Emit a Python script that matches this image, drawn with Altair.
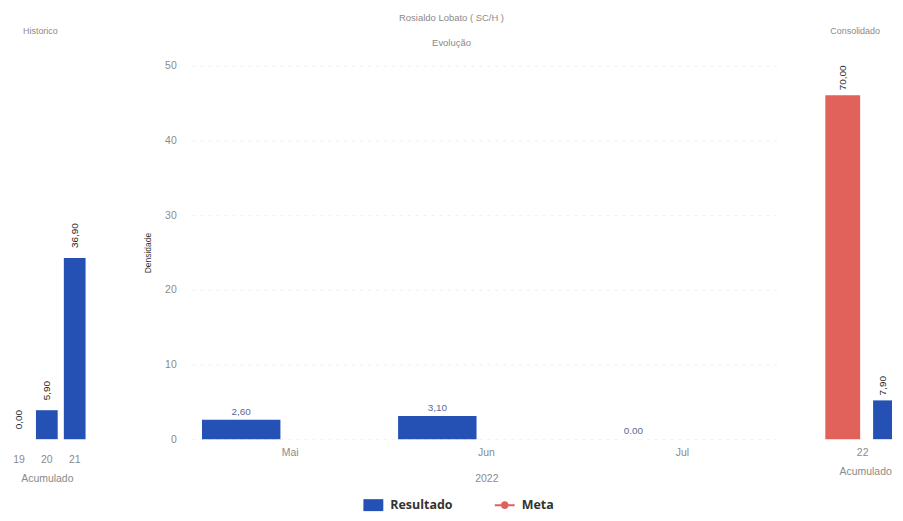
import altair as alt
import pandas as pd

# ---------------- data ----------------
hist_years = ["19", "20", "21"]
hist_vals = [0.0, 5.9, 36.9]
hist_labels = ["0,00", "5,90", "36,90"]

months = ["Mai", "Jun", "Jul"]
res_vals = [2.6, 3.1, 0.0]
res_labels = ["2,60", "3,10", "0.00"]

cons_years = ["22", "22"]
cons_series = ["Meta", "Resultado"]
cons_vals = [70.0, 7.9]
cons_labels = ["70,00", "7,90"]

series = ["Resultado", "Meta"]
series_colors = ["#2451b3", "#e0625a"]

FONT = "Liberation Sans"
GREY = "#8a8a8a"

color_scale = alt.Scale(domain=series, range=series_colors)

sq_path = "M-1,-0.6H1V0.6H-1Z"
meta_path = ("M-1,-0.1H1V0.1H-1Z M0.38,0A0.38,0.38,0,1,1,-0.38,0"
             "A0.38,0.38,0,1,1,0.38,0Z")
shape_scale = alt.Scale(domain=series, range=[sq_path, meta_path])

legend = alt.Legend(
    title=None, orient="none", direction="horizontal",
    legendX=356, legendY=431,
    labelFont="Open Sans", labelFontWeight="bold", labelFontSize=12.5,
    labelColor="#333333", symbolSize=400, symbolStrokeWidth=0,
    columnPadding=42, labelOffset=7,
)

side_y = alt.Scale(domain=[0, 76], nice=False, zero=True)

# ---------------- left: Historico ----------------
left_df = pd.DataFrame({"ano": hist_years, "valor": hist_vals,
                        "rotulo": hist_labels, "serie": ["Resultado"] * 3})
left_base = alt.Chart(left_df).encode(
    x=alt.X("ano:N", sort=hist_years,
            scale=alt.Scale(range=[-4, 80], paddingInner=0.22, paddingOuter=0.11),
            axis=alt.Axis(title="Acumulado", labelAngle=0, domain=False, ticks=False,
                          labelPadding=15, titlePadding=9, titleX=38,
                          labelFont=FONT, labelFontSize=10.5, labelColor=GREY,
                          titleFont=FONT, titleFontSize=10.5, titleFontWeight="normal",
                          titleColor=GREY)),
    y=alt.Y("valor:Q", scale=side_y, axis=None),
)
left = alt.layer(
    left_base.mark_bar().encode(color=alt.Color("serie:N", scale=color_scale, legend=legend)),
    left_base.mark_text(angle=270, align="left", baseline="middle", dx=10,
                        font=FONT, fontSize=10, color="#222222").encode(text="rotulo:N"),
).properties(
    width=149, height=375,
    title=alt.TitleParams("Historico", anchor="start", dx=15, offset=30,
                          font=FONT, fontSize=9, fontWeight="normal", color=GREY),
)

# ---------------- middle: Evolução ----------------
mid_df = pd.DataFrame({"mes": months, "valor": res_vals, "rotulo": res_labels,
                       "serie": ["Resultado"] * 3})
mid_base = alt.Chart(mid_df).encode(
    x=alt.X("mes:N", sort=months,
            scale=alt.Scale(paddingInner=0, paddingOuter=0),
            axis=alt.Axis(title="2022", labelAngle=0, domain=False, ticks=False,
                          labelPadding=8, titlePadding=16,
                          labelFont=FONT, labelFontSize=10.5, labelColor=GREY,
                          titleFont=FONT, titleFontSize=10.5, titleFontWeight="normal",
                          titleColor=GREY)),
    xOffset=alt.XOffset("serie:N", scale=alt.Scale(domain=series, paddingInner=0.2,
                                                    paddingOuter=0.1)),
    y=alt.Y("valor:Q", scale=alt.Scale(domain=[0, 50], nice=False),
            axis=alt.Axis(title="Densidade", values=[0, 10, 20, 30, 40, 50],
                          grid=True, gridColor="#f0f0f0", gridDash=[3, 5],
                          domain=False, ticks=False, labelPadding=16,
                          labelFont=FONT, labelFontSize=10.5, labelColor=GREY,
                          titleFont=FONT, titleFontSize=8.5, titleFontWeight="normal",
                          titleColor="#333333", titlePadding=12)),
)
# legend-only layer (Meta has no monthly values drawn)
legend_layer = mid_base.mark_point(filled=True, opacity=1, size=400).encode(
    color=alt.Color("serie:N", scale=color_scale, legend=legend),
    shape=alt.Shape("serie:N", scale=shape_scale, legend=legend),
).transform_filter("false")

mid = alt.layer(
    mid_base.mark_bar().encode(color=alt.Color("serie:N", scale=color_scale, legend=legend)),
    mid_base.mark_text(baseline="bottom", dy=-3, font=FONT, fontSize=10,
                       color="#5b6a95").encode(text="rotulo:N"),
    legend_layer,
).properties(
    width=591, height=375,
    title=alt.TitleParams("Rosialdo Lobato ( SC/H )", subtitle="Evolução",
                          anchor="middle", dx=-35, offset=13, subtitlePadding=16,
                          font=FONT, fontSize=9.5, fontWeight="normal", color=GREY,
                          subtitleFont=FONT, subtitleFontSize=9.5, subtitleColor=GREY),
)

# ---------------- right: Consolidado ----------------
right_df = pd.DataFrame({"ano": cons_years, "serie": cons_series,
                         "valor": cons_vals, "rotulo": cons_labels})
right_base = alt.Chart(right_df).encode(
    x=alt.X("ano:N",
            scale=alt.Scale(range=[7.5, 87.5], paddingInner=0, paddingOuter=0),
            axis=alt.Axis(title="Acumulado", labelAngle=0, domain=False, ticks=False,
                          labelPadding=8, titlePadding=9, titleX=50,
                          labelFont=FONT, labelFontSize=10.5, labelColor=GREY,
                          titleFont=FONT, titleFontSize=10.5, titleFontWeight="normal",
                          titleColor=GREY)),
    xOffset=alt.XOffset("serie:N", scale=alt.Scale(domain=["Meta", "Resultado"],
                                                    paddingInner=0.125,
                                                    paddingOuter=0.0625)),
    y=alt.Y("valor:Q", scale=side_y, axis=None),
)
meta_bar = right_base.mark_bar().encode(
    color=alt.Color("serie:N", scale=color_scale, legend=legend)
).transform_filter(alt.datum.serie == "Meta")
# the Resultado bar is cut at the right edge of the page in the original
res_bar = right_base.mark_bar(width=19).encode(
    color=alt.Color("serie:N", scale=color_scale, legend=legend)
).transform_filter(alt.datum.serie == "Resultado")
right = alt.layer(
    meta_bar, res_bar,
    right_base.mark_text(angle=270, align="left", baseline="middle", dx=5,
                         font=FONT, fontSize=10, color="#222222").encode(text="rotulo:N"),
).properties(
    width=77, height=375,
    title=alt.TitleParams("Consolidado", anchor="start", dx=15, offset=30,
                          font=FONT, fontSize=9, fontWeight="normal", color=GREY),
)

chart = alt.hconcat(left, mid, right, spacing=35, bounds="flush").resolve_scale(
    xOffset="independent", x="independent"
).properties(
    padding={"left": 0, "top": 4, "right": 0, "bottom": 0},
    background="white",
).configure_view(stroke=None)

chart.save("out.html", embed_options={"renderer": "svg", "actions": False})
